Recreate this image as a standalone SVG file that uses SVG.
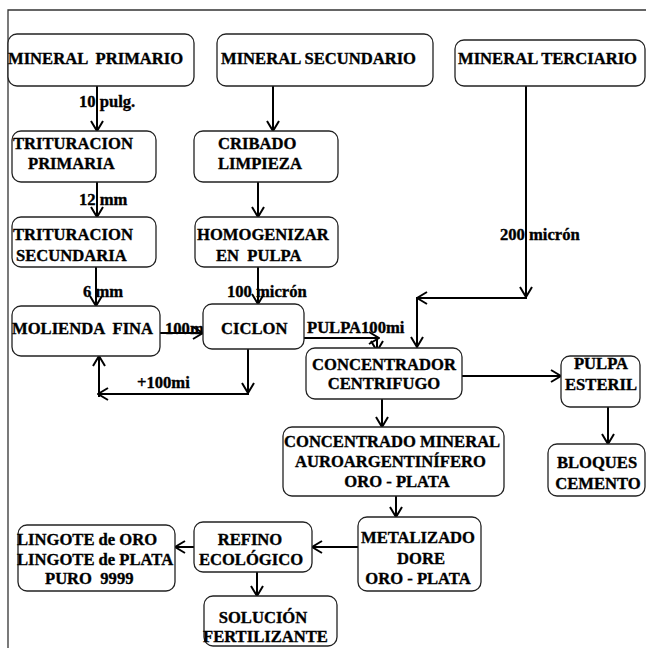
<svg xmlns="http://www.w3.org/2000/svg" width="646" height="648" viewBox="0 0 646 648">
<style>
text{font-family:"Liberation Serif","Times New Roman",serif;font-weight:bold;font-size:16.6px;fill:#000;stroke:#000;stroke-width:0.35;white-space:pre}
.box{fill:#fff;stroke:#222;stroke-width:1.3}
.c{fill:none;stroke:#000;stroke-width:2}
.m{text-anchor:middle}
</style>
<defs>
<marker id="a" viewBox="0 0 12 14" markerWidth="12" markerHeight="14" refX="11" refY="7" orient="auto" markerUnits="userSpaceOnUse">
<path d="M1,1 L11,7 L1,13" fill="none" stroke="#000" stroke-width="2"/>
</marker>
</defs>
<rect width="646" height="648" fill="#fff"/>
<path d="M8,648 V10 H646" fill="none" stroke="#333" stroke-width="1.3"/>

<g id="connectors">
<path class="c" d="M97,86 V131" marker-end="url(#a)"/>
<path class="c" d="M273,86 V131" marker-end="url(#a)"/>
<path class="c" d="M97,182 V217" marker-end="url(#a)"/>
<path class="c" d="M258,182 V217" marker-end="url(#a)"/>
<path class="c" d="M96,267 V306" marker-end="url(#a)"/>
<path class="c" d="M258,267 V304" marker-end="url(#a)"/>
<path class="c" d="M160,333 H203" marker-end="url(#a)"/>
<path class="c" d="M526,86 V297" marker-end="url(#a)"/>
<path class="c" d="M527,298 H417" marker-end="url(#a)"/>
<path class="c" d="M417,297 V347" marker-end="url(#a)"/>
<path class="c" d="M304,338 H379" marker-end="url(#a)"/>
<path class="c" d="M377,338 V351" marker-end="url(#a)"/>
<path class="c" d="M248,349 V393" marker-end="url(#a)"/>
<path class="c" d="M249,394 H98" marker-end="url(#a)"/>
<path class="c" d="M99,397 V356" marker-end="url(#a)"/>
<path class="c" d="M462,376 H561" marker-end="url(#a)"/>
<path class="c" d="M608,407 V444" marker-end="url(#a)"/>
<path class="c" d="M382,399 V427" marker-end="url(#a)"/>
<path class="c" d="M396,496 V517" marker-end="url(#a)"/>
<path class="c" d="M358,547 H312" marker-end="url(#a)"/>
<path class="c" d="M194,547 H175" marker-end="url(#a)"/>
<path class="c" d="M257,572 V596" marker-end="url(#a)"/>
</g>

<g id="labels">
<text x="79" y="107">10 pulg.</text>
<text x="79" y="205">12 mm</text>
<text x="83" y="297">6 mm</text>
<text x="227" y="297">100 micrón</text>
<text x="165" y="334">100mi</text>
<text x="137" y="388">+100mi</text>
<text x="307" y="333">PULPA100mi</text>
<text x="500" y="240">200 micrón</text>
</g>

<g id="mineral-primario"><rect class="box" x="8" y="34" width="186" height="52" rx="9"/><text x="8" y="64">MINERAL  PRIMARIO</text></g>
<g id="mineral-secundario"><rect class="box" x="217" y="34" width="216" height="52" rx="9"/><text x="221" y="64">MINERAL SECUNDARIO</text></g>
<g id="mineral-terciario"><rect class="box" x="455" y="40" width="190" height="46" rx="9"/><text x="458" y="64">MINERAL TERCIARIO</text></g>
<g id="trituracion-primaria"><rect class="box" x="12" y="131" width="144" height="51" rx="9"/><text x="13" y="149">TRITURACION</text><text x="28" y="169">PRIMARIA</text></g>
<g id="cribado"><rect class="box" x="194" y="131" width="144" height="51" rx="9"/><text x="218" y="149">CRIBADO</text><text x="218" y="169">LIMPIEZA</text></g>
<g id="trituracion-secundaria"><rect class="box" x="12" y="217" width="144" height="50" rx="9"/><text x="13" y="240">TRITURACION</text><text x="16" y="261">SECUNDARIA</text></g>
<g id="homogenizar"><rect class="box" x="195" y="217" width="143" height="50" rx="9"/><text x="197" y="240">HOMOGENIZAR</text><text x="216" y="261">EN  PULPA</text></g>
<g id="molienda"><rect class="box" x="12" y="306" width="148" height="50" rx="9"/><text x="12" y="334">MOLIENDA  FINA</text></g>
<g id="ciclon"><rect class="box" x="203" y="304" width="101" height="45" rx="9"/><text x="221" y="334">CICLON</text></g>
<g id="concentrador"><rect class="box" x="306" y="348" width="156" height="51" rx="9"/><text class="m" x="384" y="370">CONCENTRADOR</text><text class="m" x="384" y="389">CENTRIFUGO</text></g>
<g id="pulpa-esteril"><rect class="box" x="561" y="356" width="79" height="51" rx="9"/><text class="m" x="601" y="369">PULPA</text><text class="m" x="601" y="390">ESTERIL</text></g>
<g id="bloques"><rect class="box" x="548" y="444" width="97" height="52" rx="9"/><text class="m" x="597" y="468">BLOQUES</text><text class="m" x="598" y="489">CEMENTO</text></g>
<g id="concentrado"><rect class="box" x="283" y="427" width="221" height="69" rx="9"/><text x="284" y="447">CONCENTRADO MINERAL</text><text x="295" y="467">AUROARGENTINÍFERO</text><text class="m" x="397" y="487">ORO - PLATA</text></g>
<g id="metalizado"><rect class="box" x="358" y="517" width="123" height="74" rx="9"/><text class="m" x="418" y="543">METALIZADO</text><text class="m" x="421" y="564">DORE</text><text class="m" x="418" y="584">ORO - PLATA</text></g>
<g id="refino"><rect class="box" x="194" y="522" width="118" height="50" rx="9"/><text class="m" x="250" y="545">REFINO</text><text class="m" x="251" y="565">ECOLÓGICO</text></g>
<g id="lingote"><rect class="box" x="18" y="525" width="157" height="66" rx="9"/><text x="17" y="545">LINGOTE de ORO</text><text x="17" y="565">LINGOTE de PLATA</text><text x="45" y="584">PURO  9999</text></g>
<g id="solucion"><rect class="box" x="204" y="596" width="133" height="50" rx="9"/><text class="m" x="263" y="623">SOLUCIÓN</text><text x="203" y="642">FERTILIZANTE</text></g>
</svg>
